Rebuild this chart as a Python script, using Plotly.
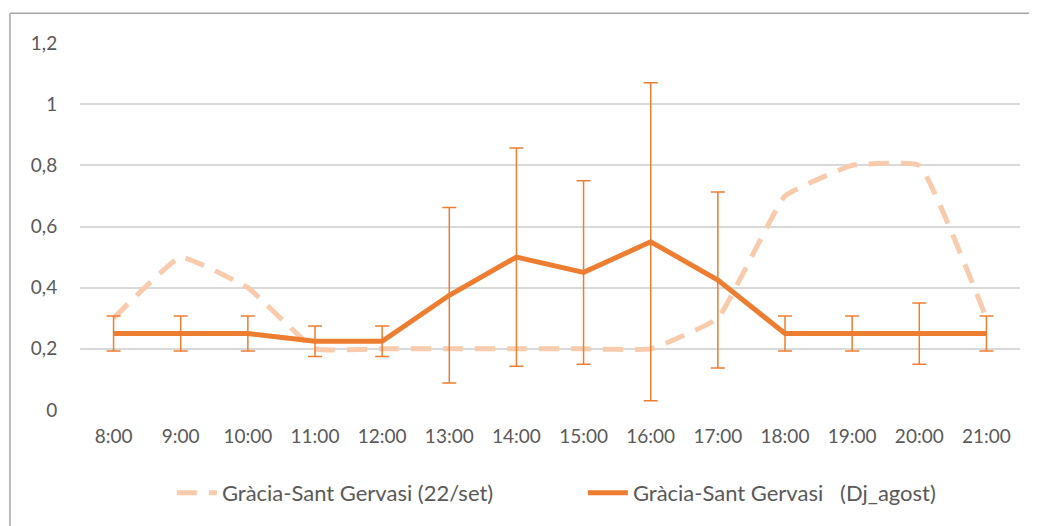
import plotly.graph_objects as go

hours = ["8:00", "9:00", "10:00", "11:00", "12:00", "13:00", "14:00",
         "15:00", "16:00", "17:00", "18:00", "19:00", "20:00", "21:00"]
set22 = [0.3, 0.5, 0.4, 0.2, 0.2, 0.2, 0.2, 0.2, 0.2, 0.3, 0.7, 0.8, 0.8, 0.3]
dj_agost = [0.25, 0.25, 0.25, 0.225, 0.225, 0.375, 0.5, 0.45, 0.55, 0.425,
            0.25, 0.25, 0.25, 0.25]
dj_err = [0.057, 0.057, 0.057, 0.05, 0.05, 0.287, 0.357, 0.3, 0.52, 0.288,
          0.057, 0.057, 0.1, 0.057]
ytick_vals = [0, 0.2, 0.4, 0.6, 0.8, 1.0, 1.2]
ytick_text = ["0", "0,2", "0,4", "0,6", "0,8", "1", "1,2"]

FONT = "Lato"
TXT = "#595959"
GRID = "#D9D9D9"

fig = go.Figure()
fig.add_trace(go.Scatter(
    x=hours, y=set22, mode="lines",
    name="Gràcia-Sant Gervasi (22/set)",
    line=dict(color="#F8CBAD", width=5, dash="20px,12px", shape="spline", smoothing=0.3),
))
fig.add_trace(go.Scatter(
    x=hours, y=dj_agost, mode="lines",
    name="Gràcia-Sant Gervasi\u00a0\u00a0\u00a0(Dj_agost)",
    line=dict(color="#ED7D31", width=5),
    error_y=dict(type="data", array=dj_err, visible=True, color="#ED7D31",
                 thickness=1.5, width=7),
))

fig.update_layout(
    width=1029, height=518,
    margin=dict(l=72, r=17, t=35, b=113),
    paper_bgcolor="white", plot_bgcolor="white",
    font=dict(family=FONT, size=19, color=TXT),
    showlegend=True,
    legend=dict(orientation="h", x=0.535, xanchor="center", y=-0.226, yanchor="middle",
                font=dict(family=FONT, size=22, color=TXT), itemwidth=40,
                entrywidth=356, entrywidthmode="pixels",
                bgcolor="rgba(0,0,0,0)"),
    xaxis=dict(type="category", range=[-0.5, 13.5], showgrid=False, zeroline=False,
               showline=False, ticks="outside", ticklen=9, tickcolor="rgba(0,0,0,0)",
               tickfont=dict(family=FONT, size=19, color=TXT)),
    yaxis=dict(range=[0, 1.2], tickvals=ytick_vals, ticktext=ytick_text,
               showgrid=True, gridcolor=GRID, gridwidth=1.5, zeroline=False,
               showline=False, ticks="outside", ticklen=18,
               tickcolor="rgba(0,0,0,0)",
               tickfont=dict(family=FONT, size=19, color=TXT)),
    shapes=[
        dict(type="line", xref="paper", yref="paper", x0=-0.0745, x1=1.05,
             y0=1.0811, y1=1.0811, line=dict(color="#A6A6A6", width=1.5)),
        dict(type="line", xref="paper", yref="paper", x0=-0.0745, x1=-0.0745,
             y0=1.0811, y1=-0.35, line=dict(color="#A6A6A6", width=1.5)),
    ],
)

fig.write_html("out.html")
